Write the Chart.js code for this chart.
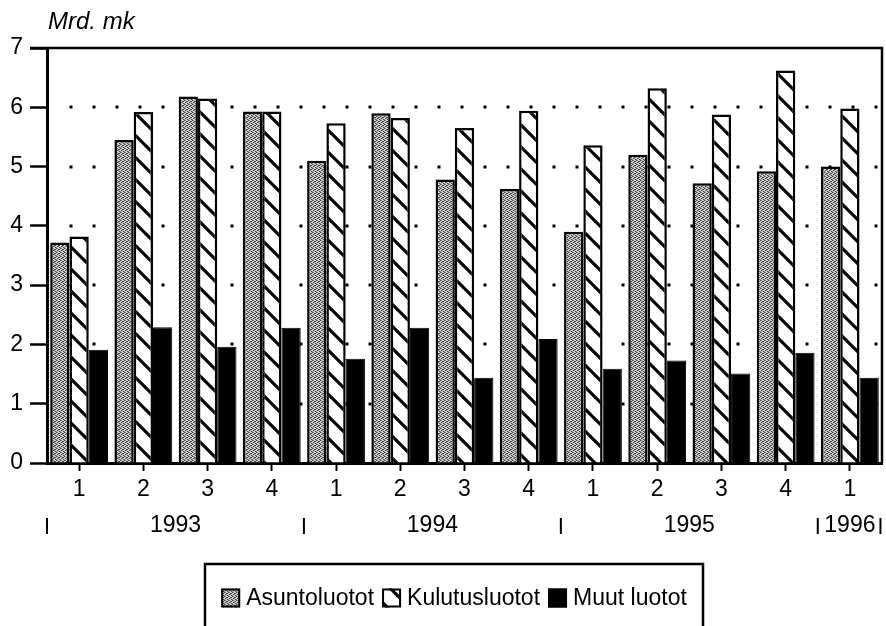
<!DOCTYPE html>
<html>
<head>
<meta charset="utf-8">
<script src="https://cdn.jsdelivr.net/npm/chart.js@4"></script>
<style>
  html, body { margin: 0; padding: 0; background: #fff; }
  #wrap { width: 886px; height: 626px; position: relative; }
</style>
</head>
<body>
<div id="wrap"><canvas id="myChart"></canvas></div>
<script>
  'use strict';

  // Quarter labels and year groups
  const categories = ['1', '2', '3', '4', '1', '2', '3', '4', '1', '2', '3', '4', '1'];
  const years = ['1993', '1994', '1995', '1996'];
  const yearSpans = [4, 4, 4, 1];
  const yTicks = [0, 1, 2, 3, 4, 5, 6, 7];

  // Series values, Mrd. mk
  const asuntoluotot = [3.72, 5.45, 6.18, 5.93, 5.10, 5.90, 4.78, 4.62, 3.90, 5.20, 4.72, 4.92, 5.00];
  const kulutusluotot = [3.82, 5.92, 6.15, 5.93, 5.73, 5.82, 5.65, 5.94, 5.36, 6.32, 5.88, 6.62, 5.98];
  const muutLuotot = [1.91, 2.29, 1.96, 2.28, 1.76, 2.28, 1.44, 2.09, 1.59, 1.73, 1.51, 1.86, 1.44];

  const FONT = '"Liberation Sans", Arial, Helvetica, sans-serif';

  /**
   * Grey stipple fill like the printed dot screen
   */
  const makeStipple = () => {
    const c = document.createElement('canvas');
    c.width = 4; c.height = 4;
    const g = c.getContext('2d');
    g.fillStyle = '#cfcfcf';
    g.fillRect(0, 0, 4, 4);
    g.fillStyle = '#444';
    [[0, 0], [2, 1], [1, 2], [3, 3], [3, 1]].forEach(([x, y]) => g.fillRect(x, y, 1, 1));
    g.fillStyle = '#888';
    [[1, 0], [0, 3], [2, 2]].forEach(([x, y]) => g.fillRect(x, y, 1, 1));
    return g.createPattern(c, 'repeat');
  };

  /**
   * White fill with thick "\" hatching
   */
  const makeHatch = () => {
    const s = 22;
    const c = document.createElement('canvas');
    c.width = s; c.height = s;
    const g = c.getContext('2d');
    g.fillStyle = '#fff';
    g.fillRect(0, 0, s, s);
    g.strokeStyle = '#000';
    g.lineWidth = 3.2;
    for (let k = -1; k <= 1; k++) {
      g.beginPath();
      g.moveTo(k * s - 2, -2);
      g.lineTo(k * s + s + 2, s + 2);
      g.stroke();
    }
    return g.createPattern(c, 'repeat');
  };

  const canvas = document.getElementById('myChart');
  const stipple = makeStipple();
  const hatch = makeHatch();

  // Dotted grid, frame, year row, title and boxed legend
  const decorations = {
    id: 'decorations',
    beforeDatasetsDraw(chart) {
      const { ctx, chartArea: a, scales: { y } } = chart;
      ctx.save();
      ctx.fillStyle = '#000';
      yTicks.slice(1, -1).forEach((v) => {
        const py = Math.round(y.getPixelForValue(v));
        for (let px = a.left + 24; px < a.right - 2; px += 23) {
          ctx.fillRect(px - 1.5, py - 1.5, 3, 3);
        }
      });
      ctx.restore();
    },
    afterDraw(chart) {
      const { ctx, chartArea: a, scales: { x } } = chart;
      ctx.save();
      ctx.strokeStyle = '#000';
      ctx.lineWidth = 2.5;
      ctx.beginPath();
      ctx.moveTo(a.left - 17, a.top);
      ctx.lineTo(a.right, a.top);
      ctx.lineTo(a.right, a.bottom);
      ctx.stroke();

      // title
      ctx.fillStyle = '#000';
      ctx.font = 'italic 24px ' + FONT;
      ctx.textAlign = 'left';
      ctx.textBaseline = 'middle';
      ctx.fillText('Mrd. mk', a.left + 1, 22);

      // year row
      const half = (x.getPixelForValue(1) - x.getPixelForValue(0)) / 2;
      const yy = 526;
      ctx.font = '23px ' + FONT;
      ctx.textAlign = 'center';
      ctx.lineWidth = 2;
      const sep = (px) => {
        ctx.beginPath();
        ctx.moveTo(px, yy - 8);
        ctx.lineTo(px, yy + 8);
        ctx.stroke();
      };
      let idx = 0;
      years.forEach((yr, i) => {
        const l = x.getPixelForValue(idx) - half;
        const r = x.getPixelForValue(idx + yearSpans[i] - 1) + half;
        sep(l);
        const cx = (l + r) / 2;
        ctx.fillText(yr, cx, yy);
        if (i === years.length - 1) {
          sep(cx + ctx.measureText(yr).width / 2 + 5);
        }
        idx += yearSpans[i];
      });

      // legend
      const items = chart.data.datasets;
      ctx.font = '23px ' + FONT;
      const sw = 19, gapIn = 6, gapOut = 8;
      let total = 0;
      items.forEach((d) => { total += sw + gapIn + ctx.measureText(d.label).width + gapOut; });
      total -= gapOut;
      const boxL = 205, boxR = 703, boxT = 564;
      let lx = (boxL + boxR) / 2 - total / 2;
      const ly = 598;
      ctx.lineWidth = 2.5;
      ctx.strokeRect(boxL, boxT, boxR - boxL, 120);
      ctx.textAlign = 'left';
      items.forEach((d) => {
        ctx.fillStyle = d.backgroundColor;
        ctx.fillRect(lx, ly - sw / 2, sw, sw);
        ctx.lineWidth = 2;
        ctx.strokeRect(lx + 1, ly - sw / 2 + 1, sw - 2, sw - 2);
        ctx.fillStyle = '#000';
        ctx.fillText(d.label, lx + sw + gapIn, ly + 1);
        lx += sw + gapIn + ctx.measureText(d.label).width + gapOut;
      });
      ctx.restore();
    }
  };

  const chart = new Chart(canvas, {
    type: 'bar',
    data: {
      labels: categories,
      datasets: [
        { label: 'Asuntoluotot', data: asuntoluotot, backgroundColor: stipple, borderColor: '#000', borderWidth: 2.5 },
        { label: 'Kulutusluotot', data: kulutusluotot, backgroundColor: hatch, borderColor: '#000', borderWidth: 2.5 },
        { label: 'Muut luotot', data: muutLuotot, backgroundColor: '#000', borderColor: '#000', borderWidth: 1 }
      ]
    },
    options: {
      responsive: true,
      maintainAspectRatio: false,
      animation: false,
      categoryPercentage: 0.9,
      barPercentage: 1.0,
      layout: { padding: { top: 48, right: 4, left: 0, bottom: 0 } },
      plugins: {
        legend: { display: false },
        tooltip: { enabled: false }
      },
      scales: {
        x: {
          grid: { offset: false, drawOnChartArea: false, drawTicks: true, tickLength: 8, tickWidth: 2, tickColor: '#000' },
          border: { color: '#000', width: 3 },
          ticks: { color: '#000', font: { family: FONT, size: 23 }, padding: 5, maxRotation: 0, autoSkip: false },
          afterFit: (scale) => { scale.height = 163; }
        },
        y: {
          min: 0,
          max: 7,
          grid: { drawOnChartArea: false, drawTicks: true, tickLength: 17, tickWidth: 2.5, tickColor: '#000' },
          border: { color: '#000', width: 3 },
          ticks: { stepSize: 1, color: '#000', font: { family: FONT, size: 23 }, padding: 7 },
          afterFit: (scale) => { scale.width = 47; }
        }
      }
    },
    plugins: [decorations]
  });
</script>
</body>
</html>
